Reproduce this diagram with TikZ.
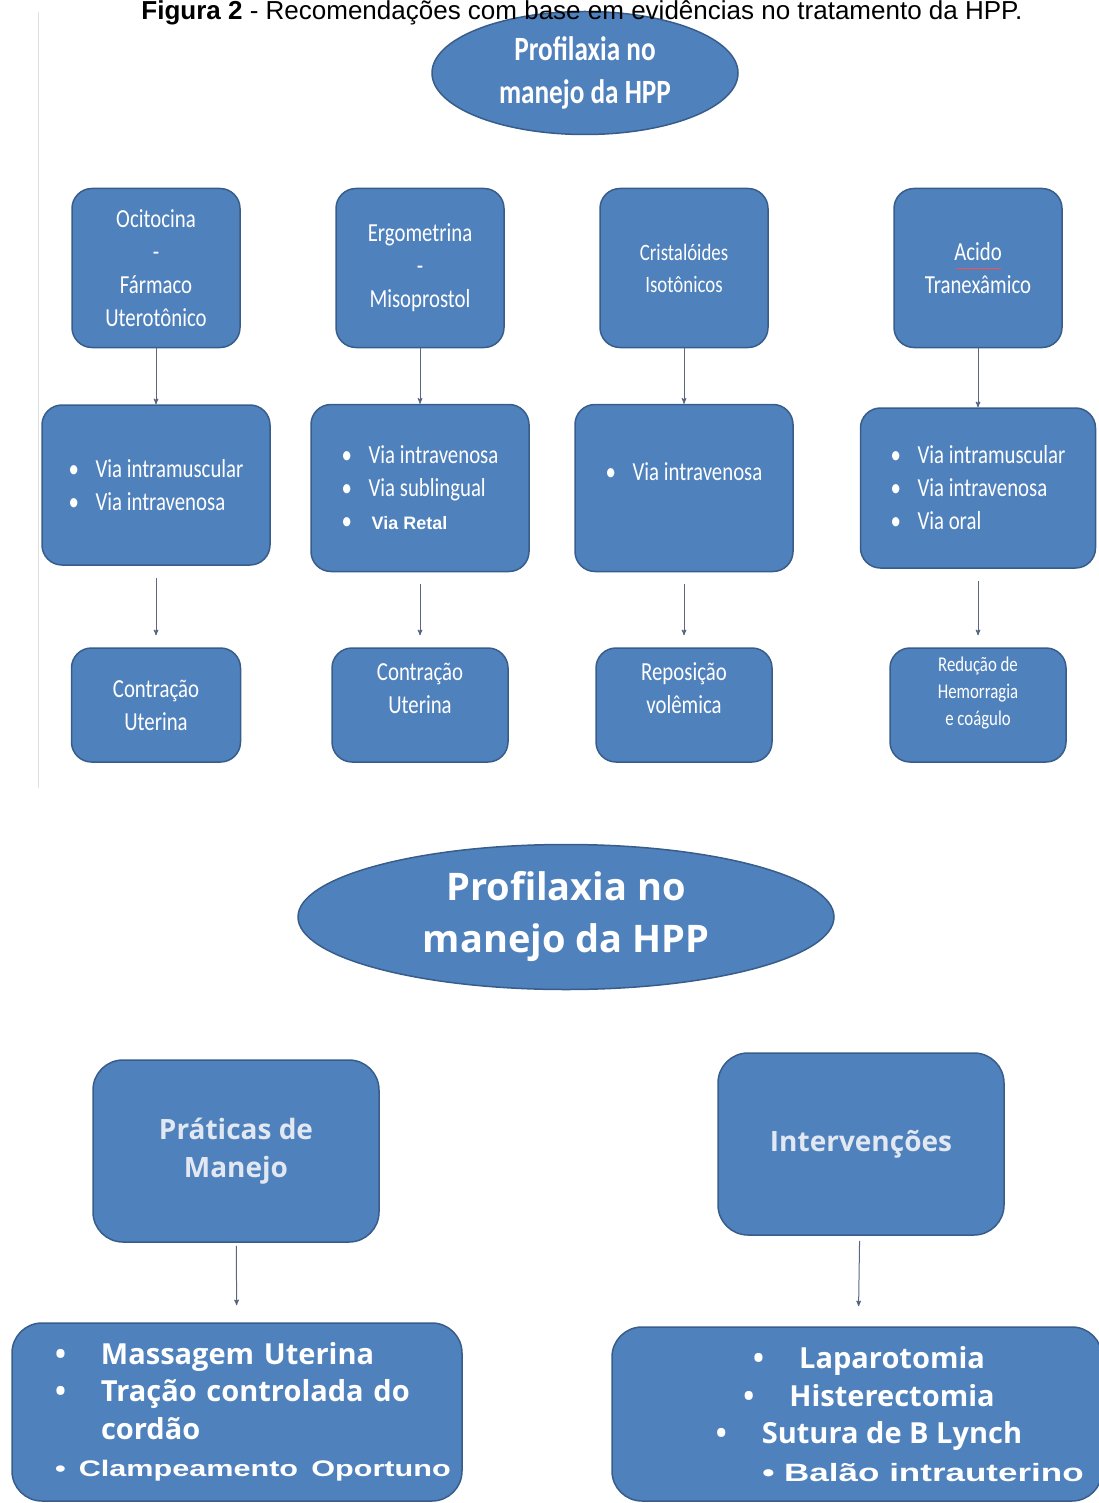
\documentclass[tikz,border=0pt]{standalone}
\usepackage{graphicx}
\usepackage{fontspec}
\setmainfont{Carlito}[FakeStretch=0.8]
\newfontfamily\opensans{Open Sans}
\newfontfamily\arialfont{Liberation Sans}
\usetikzlibrary{arrows,positioning,shapes.geometric}

\definecolor{hppblue}{RGB}{79,129,189}
\definecolor{hppedge}{RGB}{56,93,138}
\definecolor{hpparrow}{RGB}{88,104,132}
\definecolor{hpptext}{RGB}{226,232,242}

\newcommand{\dotit}{\makebox[27pt][l]{\textbullet}}
\newcommand{\bigdot}{\makebox[46pt][l]{\textbullet}}

\tikzset{
  hppell/.style={ellipse, draw=hppedge, fill=hppblue, line width=1.5pt, text=white,
    align=center, inner sep=0pt},
  drug/.style={draw=hppedge, fill=hppblue, line width=1.5pt, rounded corners=20pt,
    text=white, align=center, inner sep=0pt, minimum width=168pt, minimum height=159pt,
    font=\fontsize{26}{33}\selectfont},
  route/.style={drug, align=left, minimum width=218pt, minimum height=167pt},
  effect/.style={drug, minimum width=176pt, minimum height=114pt},
  mainbox/.style={draw=hppedge, fill=hppblue, line width=1.5pt, rounded corners=30pt,
    text=hpptext, align=center, inner sep=0pt, minimum width=286pt, minimum height=182pt,
    font=\opensans\bfseries\fontsize{28}{38}\selectfont},
  listbox/.style={mainbox, text=white, font=\opensans\bfseries\fontsize{29}{37.5}\selectfont},
  arr/.style={->, >=stealth', draw=hpparrow, line width=1pt},
  gap/.style={shorten <=12pt, shorten >=12pt}
}

\begin{document}
\begin{tikzpicture}[x=1pt, y=-1pt, node distance=217pt, on grid]
  \useasboundingbox (0,0) rectangle (1098,1503);

  % first chart
  \draw[gray!25, line width=1pt] (38,12) -- (38,788);

  \node[hppell, minimum width=306pt, minimum height=123pt,
    font=\bfseries\fontsize{34}{43}\selectfont] (prof) at (585,73) {Profilaxia no\\manejo da HPP};

  \node[anchor=base, font=\arialfont\fontsize{26}{30}\selectfont] (titulo) at (582,20)
    {\textbf{Figura 2} - Recomendações com base em evidências no tratamento da HPP.};

  \node[drug] (oci) at (156,268) {Ocitocina\\-\\Fármaco\\Uterotônico};
  \node[drug] (ergo) [right=264pt of oci] {Ergometrina\\-\\Misoprostol};
  \node[drug, font=\fontsize{23.5}{32}\selectfont] (crist) [right=264pt of ergo] {Cristalóides\\Isotônicos};
  \node[drug] (acido) [right=294pt of crist] {Acido\\Tranexâmico};
  \draw[red!70, line width=0.9pt] (956,268) -- (1001,268);

  \node[route, minimum width=228pt, minimum height=160pt] (ociv) [below=of oci]
    {\dotit Via intramuscular\\\dotit Via intravenosa};
  \node[route] (ergov) [below=220pt of ergo]
    {\dotit Via intravenosa\\\dotit Via sublingual\\\dotit\hspace{3pt}{\arialfont\bfseries\fontsize{18}{33}\selectfont Via Retal}};
  \node[route] (cristv) [below=220pt of crist] {\dotit Via intravenosa\\\mbox{}};
  \node[route, minimum width=235pt, minimum height=160pt] (acidov) [below=220pt of acido]
    {\dotit Via intramuscular\\\dotit Via intravenosa\\\dotit Via oral};

  \node[effect, minimum width=169pt] (ocie) [below=220pt of ociv] {Contração\\Uterina};
  \node[effect] (ergoe) [below=of ergov] {Contração\\Uterina\\\mbox{}};
  \node[effect] (criste) [below=of cristv] {Reposição\\volêmica\\\mbox{}};
  \node[effect, font=\fontsize{21}{27}\selectfont] (acidoe) [below=of acidov]
    {Redução de\\Hemorragia\\e coágulo\\\mbox{}};

  \path[arr] (oci) edge (ociv)
             (ergo) edge (ergov)
             (crist) edge (cristv)
             (acido) edge (acidov)
             (ociv) edge[gap] (ocie)
             (ergov) edge[gap] (ergoe)
             (cristv) edge[gap] (criste)
             (acidov) edge[gap] (acidoe);

  % second chart
  \node[hppell, minimum width=536pt, minimum height=145pt,
    font=\opensans\bfseries\fontsize{38}{52}\selectfont] (prof2) at (566,917) {Profilaxia no\\manejo da HPP};

  \node[mainbox] (prat) at (236,1151) {Práticas de\\Manejo};
  \node[mainbox] (interv) at (861,1144) {Intervenções};

  \node[listbox, align=left, text width=364pt, minimum width=450pt, minimum height=178pt] (pratl) at (237,1412)
    {\bigdot Massagem Uterina\\\bigdot Tração controlada do\\\hspace*{46pt}cordão\\
     \scalebox{1.36}[1]{\arialfont\bfseries\fontsize{22.5}{37.5}\selectfont\textbullet\ Clampeamento~Oportuno}};
  \node[listbox, minimum width=490pt, minimum height=174pt] (intervl) at (857,1414)
    {\hspace*{24pt}\bigdot Laparotomia\\\hspace*{24pt}\bigdot Histerectomia\\\hspace*{24pt}\bigdot Sutura de B Lynch\\
     \hspace*{132pt}\scalebox{1.4}[1]{\arialfont\bfseries\fontsize{25}{37.5}\selectfont\textbullet\ Balão~intrauterino}};

  \path[arr] (prat) edge[shorten <=3pt, shorten >=17pt] (pratl)
             (interv) edge[shorten <=5pt, shorten >=20pt] (intervl);
\end{tikzpicture}
\end{document}
